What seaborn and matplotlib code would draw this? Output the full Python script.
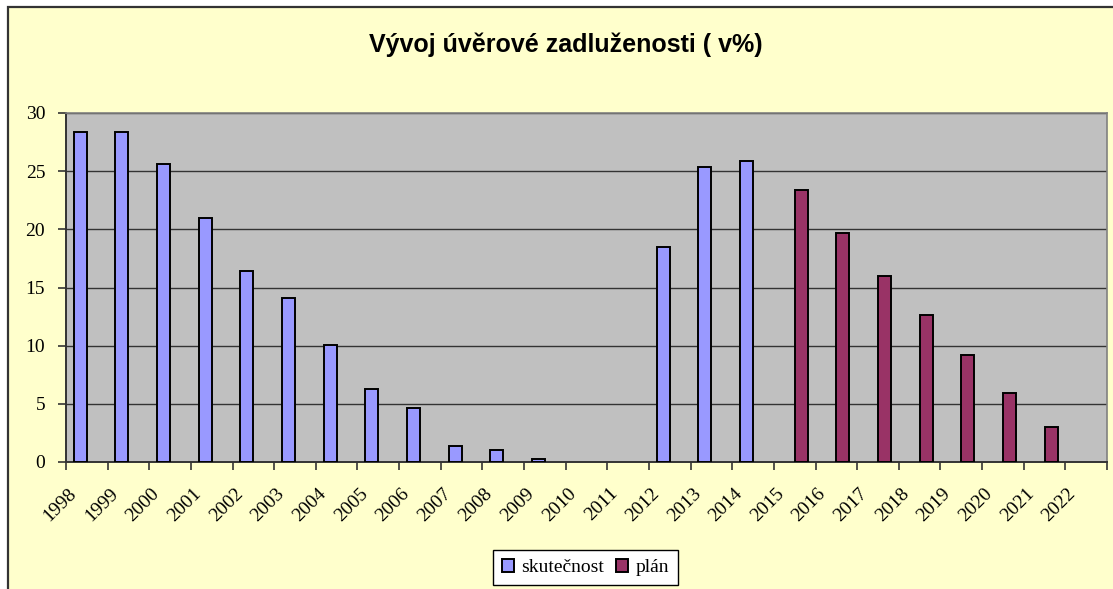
import numpy as np
import pandas as pd
import seaborn as sns
import matplotlib.pyplot as plt
import matplotlib.transforms as mtransforms
from matplotlib.patches import Rectangle

# hodnoty
years = [str(y) for y in range(1998, 2023)]
skutecnost = [28.4, 28.4, 25.6, 21.0, 16.4, 14.1, 10.1, 6.3, 4.6, 1.4, 1.0, 0.3,
              None, None, 18.5, 25.4, 25.9, None, None, None, None, None, None, None, None]
plan = [None] * 17 + [23.4, 19.7, 16.0, 12.6, 9.2, 5.9, 3.0, None]
series = ['skutečnost', 'plán']
colors = ['#9999FF', '#993366']

df = pd.concat([
    pd.DataFrame({'rok': years, 'hodnota': skutecnost, 'rada': series[0]}),
    pd.DataFrame({'rok': years, 'hodnota': plan, 'rada': series[1]}),
]).dropna()

W, H = 1113, 589
fig = plt.figure(figsize=(W / 100, H / 100), dpi=100, facecolor='white')
# pozadí oblasti grafu
fig.patches.append(Rectangle((8 / W, -0.1), 1.2, (H - 7) / H + 0.1, transform=fig.transFigure,
                             facecolor='#FFFFCC', edgecolor='#333333', lw=1.6, zorder=-5))

ax = fig.add_axes([66 / W, (H - 462) / H, (1107 - 66) / W, (462 - 113) / H])
ax.set_facecolor('#C0C0C0')

sns.barplot(data=df, x='rok', y='hodnota', hue='rada', order=years, hue_order=series,
            palette=colors, width=0.625, dodge=True, edgecolor='black', linewidth=1.4,
            errorbar=None, saturation=1, ax=ax, zorder=3)

ax.set_xlim(-0.5, len(years) - 0.5)
ax.set_ylim(0, 30)
ax.set_yticks(range(0, 31, 5))
ax.grid(axis='y', color='#333333', lw=1, zorder=1)
ax.set_axisbelow(True)
ax.set_xlabel('')
ax.set_ylabel('')

for s in ['top', 'right']:
    ax.spines[s].set_color('#808080')
    ax.spines[s].set_linewidth(1.2)
for s in ['left', 'bottom']:
    ax.spines[s].set_color('#333333')
    ax.spines[s].set_linewidth(1.4)

serif = 'Liberation Serif'
ax.tick_params(axis='y', length=6, width=1.2, color='#333333', pad=9, labelsize=14)
for t in ax.get_yticklabels():
    t.set_fontfamily(serif)

# značky mezi kategoriemi, popisky pod středy
ax.set_xticks(np.arange(len(years)))
ax.set_xticklabels(years, rotation=45, ha='right', va='baseline', rotation_mode='anchor',
                   fontfamily=serif, fontsize=14)
ax.tick_params(axis='x', which='major', length=0, pad=0)
ax.set_xticks(np.arange(len(years) + 1) - 0.5, minor=True)
ax.tick_params(axis='x', which='minor', length=6, width=1.2, color='#333333')
offset = mtransforms.ScaledTranslation(-10 / 100, -32 / 100, fig.dpi_scale_trans)
for t in ax.get_xticklabels():
    t.set_transform(t.get_transform() + offset)

fig.text(566 / W, (H - 45) / H, 'Vývoj úvěrové zadluženosti ( v%)', ha='center', va='center',
         fontfamily='Liberation Sans', fontweight='bold', fontsize=18)

handles, labels = ax.get_legend_handles_labels()
if ax.get_legend() is not None:
    ax.get_legend().remove()
leg = fig.legend(handles, labels, loc='center', bbox_to_anchor=(585.5 / W, (H - 567.5) / H),
                 ncol=2, frameon=True, fancybox=False, edgecolor='black', framealpha=1,
                 prop={'family': serif, 'size': 14}, handlelength=0.62, handleheight=0.62,
                 handletextpad=0.36, columnspacing=0.62, borderpad=0.45, borderaxespad=0)
leg.get_frame().set_linewidth(1.0)

fig.savefig('out.png', dpi=100, facecolor='white')
